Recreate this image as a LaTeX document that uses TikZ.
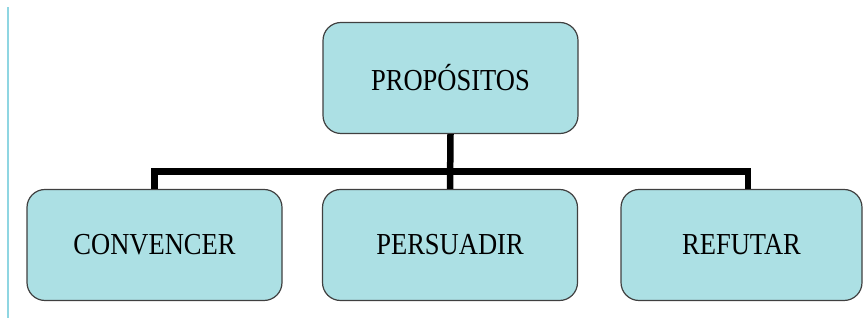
\documentclass[tikz,border=0pt]{standalone}
\usepackage{fontspec}
\newfontfamily\boxfont{Liberation Serif}
\usepackage{tikz}
\usetikzlibrary{positioning}

\definecolor{boxcyan}{HTML}{ACE0E4}
\definecolor{boxedge}{HTML}{404040}
\definecolor{sideline}{HTML}{8FD6E2}

\newcommand{\narrow}[1]{\scalebox{0.87}[1]{#1}}

\begin{document}
\begin{tikzpicture}[x=1pt,y=1pt,
    purpose/.style={draw=boxedge,line width=1.2pt,fill=boxcyan,rounded corners=18pt,
      minimum width=255pt,minimum height=111pt,inner sep=0pt,
      font=\boxfont\fontsize{30.5}{32}\selectfont},
    branch/.style={line width=6.5pt}]
  \useasboundingbox (0,0) rectangle (864,320);

  % thin side rule on the left
  \draw[sideline,line width=2pt] (7.5,2) -- (7.5,313);

  % Top and children
  \node[purpose] (propositos) at (450.5,242) {\narrow{PROPÓSITOS}};
  \node[purpose] (convencer) at (154.5,75) {\narrow{CONVENCER}};
  \node[purpose] (persuadir) at (450,75) {\narrow{PERSUADIR}};
  \node[purpose,minimum width=241pt] (refutar) at (741.5,75) {\narrow{REFUTAR}};

  % Connectors
  \coordinate (refdrop) at ([xshift=6.5pt]refutar.north);
  \coordinate (bar) at (450.5,148.5);
  \draw[branch] (propositos.south) -- (persuadir.north);
  \draw[branch] (convencer.north) |- (bar) -| (refdrop);
\end{tikzpicture}
\end{document}
